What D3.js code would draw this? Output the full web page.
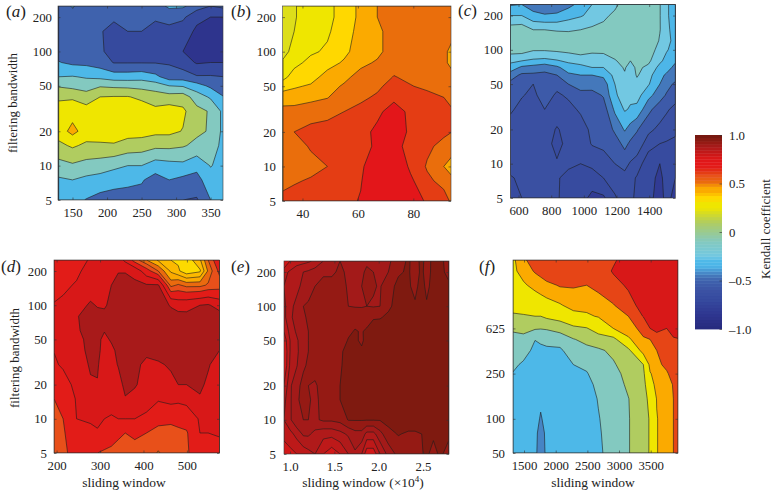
<!DOCTYPE html>
<html><head><meta charset="utf-8">
<script src="https://cdnjs.cloudflare.com/ajax/libs/d3/7.8.5/d3.min.js"></script>
<style>html,body{margin:0;background:#fff}svg{display:block}text{font-family:"Liberation Serif",serif;fill:#222}</style>
</head><body><svg id="c" width="773" height="491"></svg>
<script>
// ---------- colour bar ----------
const cbValues=[-1,-.85,-.7,-.6,-.5,-.45,-.35,-.3,-.25,-.1,.1,.2,.25,.3,.34,.36,.42,.46,.51,.585,.61,.67,.72,.77,.885,.925,.97,1];
const cbColors=["#262a7d","#2f3690","#364a9e","#3b52a4","#3f62ad","#4478bb","#4db6e8","#4db8e8","#72c8e2","#83c9c0","#b0cc60","#d8dc20","#efe600","#efe600","#ffd800","#ffd800","#fbaa00","#fbaa00","#ea6e0c","#e8501a","#e43d14","#e21c18","#e3161a","#d81818","#a81a1a","#951a14","#7f1a10","#6e1510"];
const cbTicks=[-1,-.5,0,.5,1];

// ---------- panel a ----------
const aWindow=[130,150,170,190,210,230,250,270,290,310,330,350,370];
const aBand=[250,200,150,100,80,60,50,40,30,20,15,10,7.5,5];
const aTicks=[150,200,250,300,350];
const aLevels=[-.95,-.8,-.6,-.4,-.2,0,.2,.4,.5];
const aValues=[
[-.52,-.52,-.51,-.47,-.39,-.2,-.02,.16,.3,.3,.15,-.07,-.23,-.33],
[-.38,-.5,-.5,-.47,-.44,-.19,-.06,.17,.32,.46,.23,-.03,-.2,-.34],
[-.5,-.5,-.5,-.48,-.45,-.22,-.1,.1,.28,.31,.16,-.07,-.25,-.41],
[-.5,-.58,-.59,-.58,-.5,-.25,-.02,.2,.29,.3,.17,-.1,-.28,-.47],
[-.52,-.58,-.64,-.65,-.61,-.3,-.04,.21,.3,.3,.18,-.15,-.33,-.48],
[-.5,-.54,-.6,-.65,-.61,-.3,-.05,.21,.31,.28,.12,-.2,-.36,-.47],
[-.5,-.54,-.6,-.65,-.61,-.28,-.07,.16,.31,.28,.1,-.2,-.38,-.48],
[-.5,-.58,-.65,-.66,-.61,-.35,-.1,.1,.25,.25,.05,-.3,-.48,-.55],
[-.36,-.54,-.65,-.66,-.62,-.5,-.2,.08,.3,.25,.05,-.27,-.4,-.52],
[-.37,-.56,-.72,-.8,-.7,-.5,-.22,.1,.24,.19,.02,-.25,-.45,-.6],
[-.5,-.76,-.83,-.84,-.82,-.58,-.32,-.1,.06,.04,-.05,-.34,-.47,-.62],
[-.6,-.8,-.86,-.86,-.8,-.58,-.44,-.23,-.02,-.02,-.1,-.19,-.28,-.4],
[-.55,-.8,-.88,-.88,-.8,-.6,-.5,-.4,-.27,-.27,-.27,-.27,-.3,-.33]];

// ---------- panel b ----------
const bWindow=[33,37,43,49,55,61,67,73,79,85,91,94];
const bBand=[250,200,150,100,80,60,50,40,30,20,15,10,7.5,5];
const bTicks=[40,60,80];
const bLevels=[.18,.24,.3,.38,.46,.56,.66,.78];
const bValues=[
[.19,.19,.2,.22,.25,.28,.34,.43,.48,.49,.5,.52,.54,.58],
[.235,.235,.24,.26,.28,.33,.37,.42,.49,.56,.52,.525,.55,.6],
[.27,.27,.27,.29,.32,.35,.39,.44,.5,.6,.57,.53,.57,.61],
[.28,.28,.29,.31,.35,.41,.43,.455,.53,.6,.59,.56,.6,.63],
[.33,.33,.34,.36,.39,.44,.47,.52,.56,.63,.62,.61,.63,.64],
[.4,.4,.41,.42,.44,.49,.51,.54,.59,.63,.64,.65,.655,.665],
[.46,.46,.44,.44,.47,.51,.54,.575,.64,.68,.67,.7,.72,.74],
[.5,.5,.5,.5,.52,.565,.6,.64,.7,.74,.76,.76,.76,.76],
[.49,.49,.49,.49,.5,.54,.565,.6,.64,.635,.56,.64,.68,.7],
[.48,.48,.48,.48,.49,.51,.54,.59,.61,.6,.58,.55,.58,.65],
[.48,.48,.48,.475,.475,.5,.52,.56,.6,.58,.53,.46,.53,.6],
[.48,.48,.48,.44,.44,.48,.5,.53,.57,.56,.5,.42,.48,.54]];

// ---------- panel c ----------
const cWindow=[550,620,690,760,835,905,980,1050,1120,1190,1250,1285,1325,1395,1465,1505,1560];
const cBand=[250,200,150,120,100,80,70,60,50,40,30,20,15,10,7.5,5];
const cTicks=[600,800,1000,1200,1400];
const cLevels=[-.9,-.72,-.66,-.6,-.5,-.4,-.3,-.2,0];
const cValues=[
[-.41,-.3,-.15,-.12,-.15,-.28,-.34,-.45,-.53,-.57,-.59,-.63,-.63,-.64,-.665,-.68],
[-.4,-.3,-.14,-.1,-.15,-.3,-.42,-.52,-.54,-.595,-.62,-.64,-.64,-.645,-.65,-.66],
[-.45,-.37,-.2,-.14,-.19,-.32,-.44,-.52,-.6,-.615,-.63,-.64,-.64,-.64,-.64,-.64],
[-.47,-.39,-.2,-.13,-.19,-.33,-.47,-.52,-.54,-.57,-.6,-.63,-.64,-.64,-.645,-.65],
[-.47,-.38,-.21,-.13,-.18,-.31,-.42,-.5,-.58,-.61,-.63,-.665,-.675,-.655,-.655,-.655],
[-.43,-.34,-.21,-.15,-.17,-.28,-.35,-.42,-.5,-.59,-.62,-.64,-.645,-.65,-.675,-.68],
[-.37,-.31,-.2,-.14,-.15,-.26,-.33,-.4,-.46,-.53,-.59,-.63,-.64,-.66,-.68,-.69],
[-.3,-.27,-.18,-.14,-.17,-.27,-.3,-.4,-.45,-.54,-.57,-.585,-.595,-.65,-.68,-.74],
[-.26,-.23,-.16,-.14,-.18,-.24,-.3,-.38,-.45,-.49,-.55,-.58,-.585,-.63,-.66,-.73],
[-.23,-.17,-.1,-.09,-.14,-.21,-.24,-.27,-.3,-.31,-.38,-.48,-.55,-.6,-.64,-.665],
[-.14,-.1,-.08,-.08,-.12,-.16,-.19,-.21,-.25,-.27,-.29,-.39,-.47,-.57,-.63,-.64],
[-.12,-.1,-.08,-.085,-.12,-.2,-.24,-.26,-.27,-.28,-.31,-.44,-.52,-.61,-.645,-.65],
[-.12,-.1,-.08,-.09,-.13,-.17,-.18,-.19,-.23,-.26,-.33,-.49,-.55,-.635,-.665,-.67],
[-.12,-.11,-.1,-.11,-.13,-.18,-.22,-.26,-.29,-.37,-.47,-.58,-.64,-.69,-.69,-.69],
[-.195,-.195,-.195,-.21,-.25,-.28,-.33,-.38,-.4,-.45,-.56,-.62,-.66,-.72,-.74,-.76],
[-.28,-.28,-.27,-.27,-.29,-.33,-.37,-.41,-.46,-.51,-.59,-.635,-.665,-.68,-.69,-.69],
[-.36,-.36,-.35,-.33,-.34,-.39,-.42,-.45,-.52,-.57,-.62,-.65,-.67,-.67,-.72,-.75]];

// ---------- panel d ----------
const dWindow=[194,215,246,278,294,310,326,342,358,380,407,434,463,480,499,530,549,575];
const dBand=[250,200,150,100,80,60,50,40,30,20,15,10,7.5,5];
const dTicks=[200,300,400,500];
const dLevels=[.3,.37,.43,.49,.55,.62,.72,.82,.95];
const dValues=[
[.66,.67,.69,.725,.74,.74,.74,.722,.71,.69,.62,.6,.59,.58],
[.66,.67,.7,.74,.76,.78,.78,.76,.73,.69,.63,.62,.61,.6],
[.68,.7,.73,.79,.815,.81,.8,.79,.77,.74,.73,.72,.68,.66],
[.73,.76,.78,.83,.85,.85,.84,.84,.83,.81,.78,.73,.7,.66],
[.74,.76,.78,.815,.84,.84,.84,.84,.83,.815,.78,.74,.71,.62],
[.74,.76,.78,.81,.84,.825,.8,.79,.77,.76,.75,.72,.67,.61],
[.75,.79,.82,.84,.86,.86,.83,.8,.79,.78,.76,.71,.66,.6],
[.76,.815,.85,.87,.87,.87,.86,.84,.825,.79,.76,.72,.63,.6],
[.7,.815,.85,.87,.87,.87,.87,.87,.87,.84,.815,.72,.62,.6],
[.58,.79,.84,.87,.87,.87,.87,.86,.84,.83,.79,.72,.63,.6],
[.49,.66,.83,.87,.88,.88,.87,.84,.8,.78,.76,.7,.62,.58],
[.42,.55,.83,.88,.88,.88,.87,.85,.81,.78,.73,.65,.59,.545],
[.37,.42,.53,.81,.86,.88,.87,.85,.83,.8,.75,.64,.59,.58],
[.36,.38,.56,.78,.85,.88,.87,.86,.85,.82,.74,.65,.6,.59],
[.33,.33,.53,.79,.84,.88,.88,.88,.86,.82,.75,.66,.61,.6],
[.42,.36,.53,.82,.88,.88,.88,.88,.86,.84,.81,.73,.72,.71],
[.55,.5,.56,.83,.88,.89,.88,.88,.83,.8,.77,.74,.72,.66],
[.7,.64,.58,.78,.86,.88,.87,.82,.77,.76,.75,.74,.725,.7]];

// ---------- panel e (rows here, top to bottom) ----------
const eWindow=[.93,1,1.075,1.15,1.207,1.282,1.376,1.47,1.564,1.658,1.733,1.808,1.865,1.94,2.015,2.109,2.222,2.335,2.41,2.485,2.541,2.617,2.692,2.79];
const eBand=[250,200,150,100,80,60,50,40,30,20,15,10,7.5,5];
const eTicks=[1,1.5,2,2.5];
const eLevels=[.75,.82,.85,.88,.91,.94,1];
const eRows=[
[.78,.82,.835,.84,.845,.855,.88,.9,.91,.9,.9,.9,.905,.905,.905,.905,.925,.945,.925,.95,.925,.95,.95,.925],
[.84,.855,.87,.88,.885,.895,.905,.905,.915,.905,.905,.905,.915,.91,.905,.91,.935,.945,.92,.95,.92,.955,.955,.925],
[.85,.865,.875,.885,.895,.91,.92,.92,.925,.905,.905,.91,.918,.912,.908,.925,.95,.945,.93,.955,.93,.955,.96,.95],
[.84,.875,.885,.91,.915,.92,.925,.93,.93,.91,.908,.908,.91,.908,.91,.935,.95,.95,.945,.96,.945,.96,.96,.96],
[.84,.875,.89,.905,.915,.92,.925,.93,.93,.93,.93,.925,.925,.938,.938,.945,.955,.96,.96,.96,.96,.96,.96,.96],
[.82,.86,.885,.9,.91,.925,.925,.93,.93,.935,.942,.938,.945,.95,.955,.96,.96,.96,.96,.96,.96,.96,.96,.96],
[.8,.85,.875,.9,.91,.925,.925,.93,.925,.942,.945,.935,.95,.955,.96,.96,.96,.96,.96,.96,.96,.96,.96,.96],
[.79,.85,.875,.895,.91,.925,.925,.93,.935,.95,.955,.945,.955,.96,.96,.96,.96,.96,.96,.96,.96,.96,.96,.96],
[.79,.855,.878,.905,.915,.925,.93,.93,.937,.95,.955,.96,.96,.96,.96,.96,.96,.96,.96,.96,.96,.96,.96,.96],
[.82,.875,.9,.92,.91,.905,.925,.93,.94,.95,.955,.96,.96,.96,.96,.96,.96,.96,.96,.96,.96,.96,.96,.96],
[.84,.875,.905,.92,.915,.9,.925,.93,.94,.95,.955,.96,.96,.96,.96,.96,.96,.96,.96,.96,.96,.96,.96,.96],
[.85,.875,.905,.91,.91,.905,.915,.915,.92,.942,.942,.942,.942,.942,.942,.95,.96,.96,.96,.96,.96,.96,.96,.96],
[.83,.84,.86,.885,.885,.87,.86,.86,.87,.885,.9,.9,.87,.87,.9,.93,.942,.935,.935,.94,.945,.945,.95,.945],
[.8,.81,.82,.83,.84,.85,.82,.8,.82,.85,.875,.85,.8,.8,.85,.89,.92,.93,.935,.938,.945,.93,.945,.93]];
const eValues=d3.transpose(eRows);

// ---------- panel f ----------
const fWindow=[1326,1490,1674,1763,1858,2068,2279,2489,2674,2910,3147,3384,3490,3595,3753,3858,3931];
const fBand=[2500,2000,1500,1000,800,625,500,400,300,250,200,150,100,75,50];
const fTicks=[1500,2000,2500,3000,3500];
const fBandTicks=[50,100,250,625];
const fLevels=[-.46,-.4,-.2,0,.2,.4,.5,.7,.84];
const fValues=[
[.38,.37,.34,.25,.18,.02,-.04,-.08,-.16,-.21,-.25,-.28,-.29,-.3,-.31],
[.47,.45,.38,.25,.19,.03,-.03,-.12,-.23,-.26,-.28,-.29,-.3,-.31,-.32],
[.58,.51,.44,.3,.2,.02,-.195,-.25,-.28,-.3,-.31,-.32,-.32,-.33,-.33],
[.6,.53,.46,.33,.2,.01,-.17,-.24,-.28,-.3,-.32,-.36,-.42,-.5,-.55],
[.65,.58,.47,.36,.24,.02,-.15,-.23,-.28,-.3,-.32,-.33,-.33,-.34,-.34],
[.67,.6,.51,.39,.28,.08,-.12,-.23,-.27,-.29,-.31,-.32,-.32,-.33,-.33],
[.66,.6,.51,.44,.36,.16,-.01,-.1,-.2,-.27,-.3,-.31,-.32,-.32,-.33],
[.66,.6,.5,.44,.38,.19,.05,-.05,-.17,-.21,-.25,-.28,-.3,-.31,-.32],
[.62,.58,.53,.45,.41,.28,.12,-.03,-.09,-.13,-.16,-.19,-.21,-.22,-.23],
[.67,.72,.63,.49,.46,.4,.15,.04,-.02,-.05,-.08,-.1,-.11,-.12,-.13],
[.8,.76,.73,.62,.5,.46,.38,.16,.09,.05,.03,-.005,-.01,-.01,-.01],
[.85,.84,.83,.78,.71,.53,.49,.47,.2,.17,.14,.12,.11,.11,.11],
[.85,.85,.84,.82,.76,.7,.5,.47,.44,.39,.34,.26,.22,.22,.22],
[.86,.86,.85,.84,.81,.74,.63,.5,.47,.45,.44,.405,.395,.395,.395],
[.86,.86,.86,.85,.82,.7,.66,.6,.53,.485,.47,.46,.45,.45,.45],
[.87,.87,.87,.86,.84,.78,.68,.63,.58,.55,.505,.5,.5,.5,.5],
[.87,.87,.87,.87,.85,.8,.69,.66,.62,.6,.58,.57,.56,.56,.56]];

const yTicks=[5,10,20,50,100,200];

// ---------- layout ----------
const svg=d3.select("#c");
const cmap=d3.scaleLinear().domain(cbValues).range(cbColors).clamp(true);
const panels=[
 {id:"a",win:aWindow,band:aBand,vals:aValues,lev:aLevels,xt:aTicks,yt:yTicks,xd:[129,368],yd:[5,250],box:[58,6,223,200],yr:52,lab:[6,17]},
 {id:"b",win:bWindow,band:bBand,vals:bValues,lev:bLevels,xt:bTicks,yt:yTicks,xd:[32.8,93.6],yd:[5,250],box:[282.5,6,451,201],yr:276,lab:[231,17]},
 {id:"c",win:cWindow,band:cBand,vals:cValues,lev:cLevels,xt:cTicks,yt:yTicks,xd:[551,1561],yd:[5,250],box:[510.5,4.5,675.5,198],yr:503,lab:[458,16]},
 {id:"d",win:dWindow,band:dBand,vals:dValues,lev:dLevels,xt:dTicks,yt:yTicks,xd:[194,575],yd:[5,250],box:[54,260,219.5,453],yr:47,lab:[1,272],xl:"sliding window",xlx:124},
 {id:"e",win:eWindow,band:eBand,vals:eValues,lev:eLevels,xt:eTicks,yt:yTicks,xd:[.932,2.793],yd:[5,250],box:[284,261,449,454],yr:276,lab:[231,272],xl:"sliding window (×10",sup:"4",fmt:d3.format(".1f"),xlx:363},
 {id:"f",win:fWindow,band:fBand,vals:fValues,lev:fLevels,xt:fTicks,yt:fBandTicks,xd:[1326,3931],yd:[50,2500],box:[513,260,678,453],yr:505,lab:[479,272],xl:"sliding window",xlx:593}
];
const FS=12.8;
panels.forEach(p=>{
 const [x0,y0,x1,y1]=p.box;
 const x=d3.scaleLinear().domain(p.xd).range([x0,x1]);
 const y=d3.scaleLog().domain(p.yd).range([y1,y0]);
 const n=p.win.length,m=p.band.length;
 const flat=[];for(let j=0;j<m;j++)for(let i=0;i<n;i++)flat.push(p.vals[i][j]);
 const ix=d3.scaleLinear().domain(d3.range(n)).range(p.win.map(x)).clamp(true);
 const iy=d3.scaleLinear().domain(d3.range(m)).range(p.band.map(y)).clamp(true);
 const proj=d3.geoTransform({point(a,b){this.stream.point(ix(a-.5),iy(b-.5));}});
 const path=d3.geoPath(proj);
 const g=svg.append("g");
 svg.append("clipPath").attr("id","clip-"+p.id).append("rect").attr("x",x0).attr("y",y0).attr("width",x1-x0).attr("height",y1-y0);
 const body=g.append("g").attr("clip-path",`url(#clip-${p.id})`);
 const mid=k=>(p.lev[k]+p.lev[k+1])/2;
 body.append("rect").attr("x",x0).attr("y",y0).attr("width",x1-x0).attr("height",y1-y0).attr("fill",cmap(mid(0)));
 const contours=d3.contours().size([n,m]).smooth(true);
 for(let k=1;k<p.lev.length-1;k++){
  body.append("path").attr("d",path(contours.contour(flat,p.lev[k])))
   .attr("fill",cmap(mid(k))).attr("stroke","#1c1c1c").attr("stroke-width",.7).attr("stroke-opacity",.85).attr("stroke-linejoin","round");
 }
 g.append("rect").attr("x",x0).attr("y",y0).attr("width",x1-x0).attr("height",y1-y0).attr("fill","none").attr("stroke","#3a3a3a").attr("stroke-width",.6);
 const fmt=p.fmt||d3.format("d");
 const bottom=g.append("g").attr("transform",`translate(0,${y1})`).call(d3.axisBottom(x).tickValues(p.xt).tickSize(-2.5).tickPadding(8).tickFormat(fmt));
 const top=g.append("g").attr("transform",`translate(0,${y0})`).call(d3.axisTop(x).tickValues(p.xt).tickSize(-2.5).tickFormat(""));
 const left=g.append("g").attr("transform",`translate(${x0},0)`).call(d3.axisLeft(y).tickValues(p.yt).tickSize(-2.5).tickPadding(x0-p.yr).tickFormat(d3.format("d")));
 const right=g.append("g").attr("transform",`translate(${x1},0)`).call(d3.axisRight(y).tickValues(p.yt).tickSize(-2.5).tickFormat(""));
 [bottom,top,left,right].forEach(a=>{a.select(".domain").remove();a.selectAll("line").attr("stroke","#333").attr("stroke-width",.6);
  a.selectAll("text").attr("font-size",FS).attr("font-family","Liberation Serif").attr("fill","#222");});
 const t=svg.append("text").attr("x",p.lab[0]).attr("y",p.lab[1]).attr("font-size",17);
 t.append("tspan").text("(");t.append("tspan").attr("font-style","italic").text(p.id);t.append("tspan").text(")");
 if(p.xl){
  const l=svg.append("text").attr("x",p.xlx).attr("y",487).attr("text-anchor","middle").attr("font-size",13.5).text(p.xl);
  if(p.sup){l.append("tspan").attr("dy",-5).attr("font-size",9).text(p.sup);l.append("tspan").attr("dy",5).text(")");}
 }
});
[[13,103],[15,358]].forEach(([px,py])=>{
 svg.append("text").attr("transform",`translate(${px+4},${py}) rotate(-90)`).attr("text-anchor","middle").attr("font-size",13).text("filtering bandwidth");
});

// ---------- colour bar ----------
const cbX=695,cbW=27,cbY=d3.scaleLinear().domain([-1,1]).range([329,135]);
const steps=d3.range(64).map(i=>-1+2*i/64);
svg.append("g").selectAll("rect").data(steps).join("rect")
 .attr("x",cbX).attr("width",cbW).attr("y",v=>cbY(v+2/64)).attr("height",v=>cbY(v)-cbY(v+2/64)+.4).attr("fill",v=>cmap(v+1/64));
const cbAxis=svg.append("g").attr("transform",`translate(${cbX+cbW},0)`).call(d3.axisRight(cbY).tickValues(cbTicks).tickSize(-2.5).tickPadding(7)
 .tickFormat(v=>v===0?"0":(v<0?"–":"")+d3.format(".1f")(Math.abs(v))));
cbAxis.select(".domain").remove();cbAxis.selectAll("line").attr("stroke","#333").attr("stroke-width",.6);
cbAxis.selectAll("text").attr("font-size",FS).attr("font-family","Liberation Serif").attr("fill","#222");
svg.append("text").attr("transform","translate(770,229) rotate(-90)").attr("text-anchor","middle").attr("font-size",13).text("Kendall coefficient");
</script></body></html>
